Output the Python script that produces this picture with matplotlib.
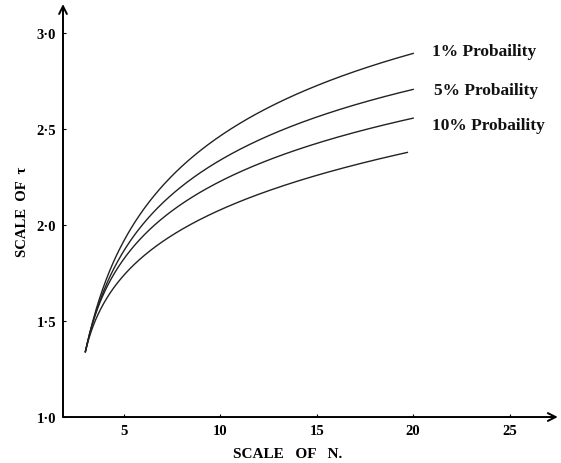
import numpy as np
import matplotlib
matplotlib.use("Agg")
import matplotlib.pyplot as plt

# values
n_vals = [3, 3.5, 4, 5, 6, 8, 10, 12, 14, 16, 18, 20]
t_1pct = [1.34, 1.55, 1.70, 1.92, 2.07, 2.31, 2.465, 2.59, 2.69, 2.78, 2.835, 2.886]
t_5pct = [1.34, 1.54, 1.67, 1.87, 2.00, 2.20, 2.345, 2.45, 2.53, 2.60, 2.655, 2.705]
t_10pct = [1.34, 1.52, 1.65, 1.83, 1.94, 2.11, 2.22, 2.31, 2.39, 2.46, 2.51, 2.55]
n_low = [3, 3.5, 4, 5, 6, 8, 10, 12, 14, 16, 18, 19.7]
t_low = [1.34, 1.49, 1.61, 1.74, 1.83, 1.97, 2.08, 2.16, 2.23, 2.29, 2.34, 2.37]

labels = ["1% Probaility", "5% Probaility", "10% Probaility"]
label_pos = [(20.96, 2.907), (21.06, 2.70), (21.0, 2.52)]

xticks = [5, 10, 15, 20, 25]
yticks = [1.0, 1.5, 2.0, 2.5, 3.0]
ytick_labels = ["1\u00b70", "1\u00b75", "2\u00b70", "2\u00b75", "3\u00b70"]

serif = "Liberation Serif"


def smooth(n, t):
    # hand-drawn look: least squares cubic in log(N - 2.5), through the read points
    n = np.asarray(n, float)
    u = np.log(n - 2.5)
    c = np.polyfit(u, t, 3)
    xs = np.linspace(n[0], n[-1], 400)
    ys = np.polyval(c, np.log(xs - 2.5))
    ys += t[0] - ys[0]  # all curves leave the same start point
    return xs, ys


fig = plt.figure(figsize=(5.61, 4.64), dpi=100)
ax = fig.add_axes([0.1123, 0.0991, 0.882, 0.890])
ax.set_xlim(1.84, 27.5)
ax.set_ylim(1.0, 3.15)

for n, t in [(n_vals, t_1pct), (n_vals, t_5pct), (n_vals, t_10pct), (n_low, t_low)]:
    xs, ys = smooth(n, t)
    ax.plot(xs, ys, color="#222222", lw=1.0)

for txt, (x, y) in zip(labels, label_pos):
    ax.text(x, y, txt, fontsize=12.5, fontweight="bold", family=serif,
            ha="left", va="center", color="#111111")

for s in ax.spines.values():
    s.set_visible(False)

arrow = dict(arrowstyle="->", lw=1.4, color="black", shrinkA=0, shrinkB=0,
             mutation_scale=14)
ax.annotate("", xy=(1, 0), xytext=(0, 0), xycoords="axes fraction",
            arrowprops=arrow)
ax.annotate("", xy=(0, 1), xytext=(0, 0), xycoords="axes fraction",
            arrowprops=arrow)

ax.set_xticks(xticks)
ax.set_xticklabels([str(v) for v in xticks], fontsize=10.5, fontweight="bold",
                   family=serif)
ax.set_yticks(yticks)
ax.set_yticklabels(ytick_labels, fontsize=10.5, fontweight="bold", family=serif)
ax.tick_params(direction="in", length=2, width=0.8, pad=5)

fig.text(0.512, 0.02, "SCALE   OF   N.", fontsize=11, fontweight="bold",
         family=serif, ha="center", va="center")
fig.text(0.04, 0.543, "SCALE  OF  \u03c4", fontsize=10.5, fontweight="bold",
         family=serif, ha="center", va="center", rotation=90)

fig.savefig("out.png", dpi=100, facecolor="white")
